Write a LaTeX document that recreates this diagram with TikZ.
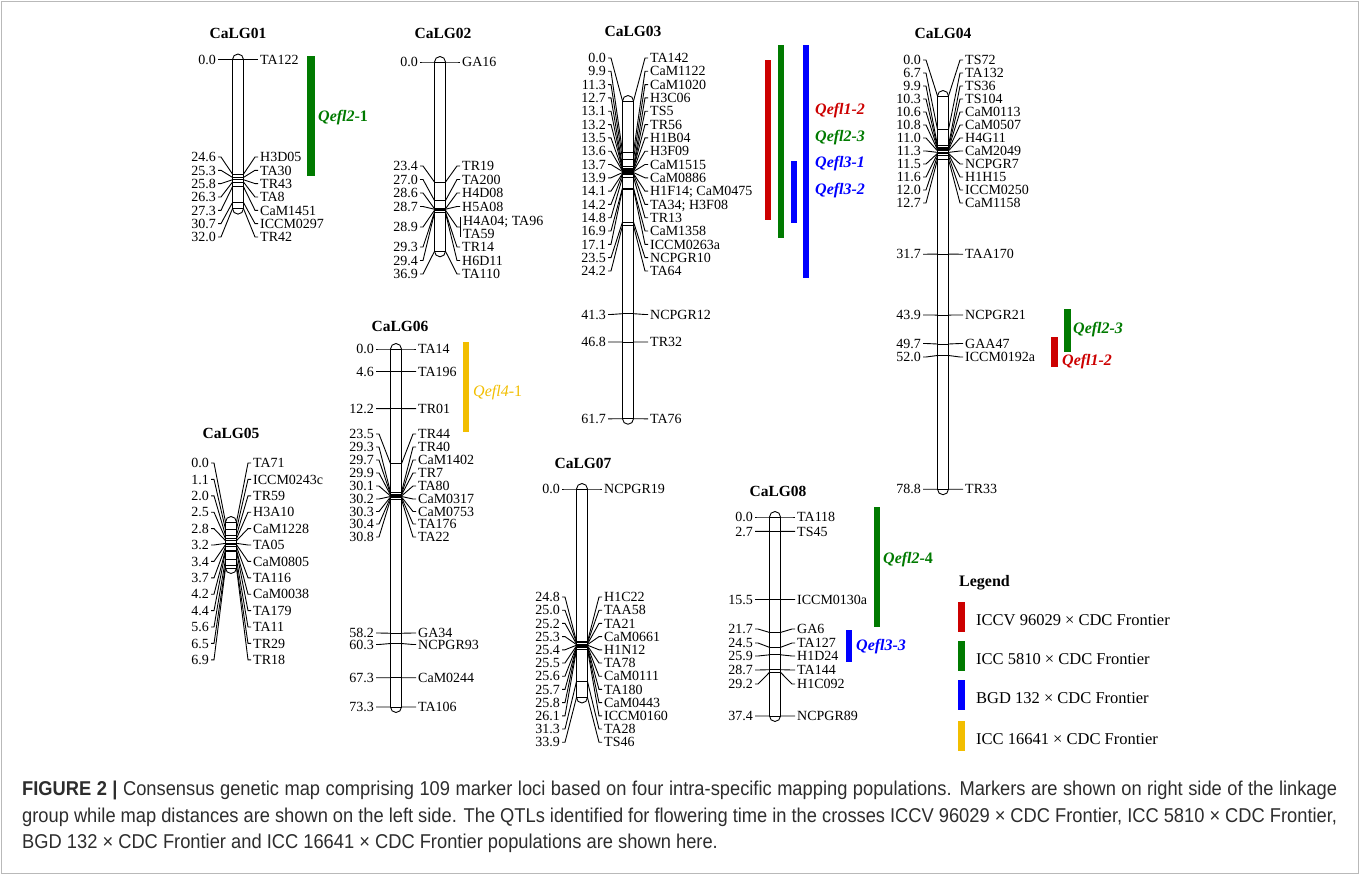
\documentclass[tikz,border=0pt]{standalone}
\usepackage{fontspec}
\setmainfont{Liberation Serif}
\newfontfamily\capfont[FakeStretch=0.915]{Liberation Sans}
\definecolor{qred}{RGB}{204,0,0}
\definecolor{qgreen}{RGB}{0,122,0}
\definecolor{qblue}{RGB}{0,0,255}
\definecolor{qyellow}{RGB}{242,190,0}
\definecolor{captext}{RGB}{45,45,45}
\newcommand{\hw}{5.5}
\newcommand{\LL}{20}
\tikzset{
  mline/.style={line width=0.9pt,black},
  lbl/.style={font=\fontsize{14}{14}\selectfont,inner sep=0pt,text height=9.4pt,text depth=0pt},
  leglbl/.style={font=\fontsize{16.5}{16.5}\selectfont,inner sep=0pt,anchor=west},
  ttl/.style={font=\fontsize{15.5}{15.5}\bfseries\selectfont,inner sep=0pt},
  qtl/.style={font=\fontsize{16}{16}\bfseries\itshape\selectfont,inner sep=0pt,anchor=west},
  caplbl/.style={font=\capfont\fontsize{20}{20}\selectfont,text=captext,inner sep=0pt,anchor=west},
}
\newcommand{\mapmarker}[7]{%
  \pgfmathsetmacro{\yp}{#2+#3*#4}%
  \draw[mline] (#1-\hw,\yp) -- (#1+\hw,\yp);
  \draw[mline] (#1-\hw,\yp) -- (#1-\LL+3,#5) -- (#1-\LL,#5);
  \draw[mline] (#1+\hw,\yp) -- (#1+\LL-3,#5) -- (#1+\LL,#5);
  \node[lbl,anchor=east] at (#1-\LL-2,#5) {#6};
  \node[lbl,anchor=west] at (#1+\LL+2,#5) {#7};
}
\newcommand{\rod}[4]{%
  \pgfmathsetmacro{\ye}{#2+#3*#4}%
  \draw[mline,rounded corners=5.5pt] (#1-\hw,#2-\hw) rectangle (#1+\hw,\ye+\hw);
}
\begin{document}
\begin{tikzpicture}[x=1pt,y=-1pt]
\useasboundingbox (0,0) rectangle (1360,875);
\draw[gray!55,line width=1pt] (1.5,1.5) rectangle (1358.5,873.5);

% ---------- CaLG01
\node[ttl] (t1) at (238,33) {CaLG01};
\def\cx{238}\def\yo{59.5}\def\sc{4.66}
\rod{\cx}{\yo}{\sc}{32.0}
\foreach \p/\yl/\m in {0.0/59.5/TA122,24.6/157/H3D05,25.3/170.3/TA30,25.8/183.6/TR43,26.3/197/TA8,27.3/210.3/CaM1451,30.7/223.6/ICCM0297,32.0/237/TR42}
  {\mapmarker{\cx}{\yo}{\sc}{\p}{\yl}{\p}{\m}}
\fill[qgreen] (307,56) rectangle (315,176);
\node[qtl,text=qgreen] (q1) at (318,118) {Qefl2\upshape-1};

% ---------- CaLG02
\node[ttl] (t2) at (443,33) {CaLG02};
\def\cx{440}\def\yo{62}\def\sc{5.13}
\rod{\cx}{\yo}{\sc}{36.9}
\foreach \p/\yl/\m in {0.0/62/GA16,23.4/166/TR19,27.0/179.5/TA200,28.6/193/H4D08,28.7/206.5/H5A08,29.3/247/TR14,29.4/260.5/H6D11,36.9/274/TA110}
  {\mapmarker{\cx}{\yo}{\sc}{\p}{\yl}{\p}{\m}}
\mapmarker{\cx}{\yo}{\sc}{28.9}{227}{28.9}{}
\draw[mline] (\cx+\LL,217) -- (\cx+\LL,237);
\node[lbl,anchor=west] (g2a) at (\cx+\LL+3,220.5) {H4A04; TA96};
\node[lbl,anchor=west] (g2b) at (\cx+\LL+3,234) {TA59};

% ---------- CaLG03
\node[ttl] (t3) at (633,31) {CaLG03};
\def\cx{628}\def\yo{101}\def\sc{5.15}
\rod{\cx}{\yo}{\sc}{61.7}
\foreach \p/\yl/\m in {0.0/58/TA142,9.9/71.3/CaM1122,11.3/84.6/CaM1020,12.7/97.9/H3C06,13.1/111.2/TS5,13.2/124.6/TR56,13.5/137.9/H1B04,13.6/151.2/H3F09,13.7/164.5/CaM1515,13.9/177.8/CaM0886,14.1/191.1/H1F14; CaM0475,14.2/204.4/TA34; H3F08,14.8/217.7/TR13,16.9/231/CaM1358,17.1/244.3/ICCM0263a,23.5/257.6/NCPGR10,24.2/271/TA64,41.3/314.5/NCPGR12,46.8/342/TR32,61.7/418.8/TA76}
  {\mapmarker{\cx}{\yo}{\sc}{\p}{\yl}{\p}{\m}}
\fill[qred] (765,60) rectangle (771,220);
\fill[qgreen] (778,45) rectangle (784,238);
\fill[qblue] (791,161) rectangle (797,223);
\fill[qblue] (803,45) rectangle (809,278);
\node[qtl,text=qred] (q31) at (815,111) {Qefl1-2};
\node[qtl,text=qgreen] (q32) at (815,138) {Qefl2-3};
\node[qtl,text=qblue] (q33) at (815,164) {Qefl3-1};
\node[qtl,text=qblue] (q34) at (815,191) {Qefl3-2};

% ---------- CaLG04
\node[ttl] (t4) at (943,33) {CaLG04};
\def\cx{943}\def\yo{96}\def\sc{4.99}
\rod{\cx}{\yo}{\sc}{78.8}
\foreach \p/\yl/\m in {0.0/60/TS72,6.7/73/TA132,9.9/86/TS36,10.3/99/TS104,10.6/112/CaM0113,10.8/125/CaM0507,11.0/138/H4G11,11.3/151/CaM2049,11.5/164/NCPGR7,11.6/177/H1H15,12.0/190/ICCM0250,12.7/203/CaM1158,31.7/254.2/TAA170,43.9/315/NCPGR21,49.7/343.5/GAA47,52.0/357/ICCM0192a,78.8/489.2/TR33}
  {\mapmarker{\cx}{\yo}{\sc}{\p}{\yl}{\p}{\m}}
\fill[qgreen] (1064,309) rectangle (1071,352);
\fill[qred] (1051,337) rectangle (1058,367);
\node[qtl,text=qgreen] (q41) at (1073,330) {Qefl2-3};
\node[qtl,text=qred] (q42) at (1062,362) {Qefl1-2};

% ---------- CaLG05
\node[ttl] (t5) at (231,433) {CaLG05};
\def\cx{231}\def\yo{522}\def\sc{6.67}
\rod{\cx}{\yo}{\sc}{6.9}
\foreach \p/\yl/\m in {0.0/463/TA71,1.1/479.4/ICCM0243c,2.0/495.8/TR59,2.5/512.2/H3A10,2.8/528.6/CaM1228,3.2/545/TA05,3.4/561.4/CaM0805,3.7/577.8/TA116,4.2/594.2/CaM0038,4.4/610.6/TA179,5.6/627/TA11,6.5/643.4/TR29,6.9/659.8/TR18}
  {\mapmarker{\cx}{\yo}{\sc}{\p}{\yl}{\p}{\m}}

% ---------- CaLG06
\node[ttl] (t6) at (400,326) {CaLG06};
\def\cx{396}\def\yo{349}\def\sc{4.884}
\rod{\cx}{\yo}{\sc}{73.3}
\foreach \p/\yl/\m in {0.0/349/TA14,4.6/371.5/TA196,12.2/408.6/TR01,23.5/434/TR44,29.3/447/TR40,29.7/460/CaM1402,29.9/473/TR7,30.1/486/TA80,30.2/499/CaM0317,30.3/511.5/CaM0753,30.4/524/TA176,30.8/537/TA22,58.2/633/GA34,60.3/644.5/NCPGR93,67.3/677.7/CaM0244,73.3/707/TA106}
  {\mapmarker{\cx}{\yo}{\sc}{\p}{\yl}{\p}{\m}}
\fill[qyellow] (463,342) rectangle (469,432);
\node[qtl,text=qyellow,font=\fontsize{16}{16}\itshape\selectfont] (q6) at (473,393) {Qefl4\upshape-1};

% ---------- CaLG07
\node[ttl] (t7) at (583,463) {CaLG07};
\def\cx{582}\def\yo{489}\def\sc{6.15}
\rod{\cx}{\yo}{\sc}{33.9}
\foreach \p/\yl/\m in {0.0/489/NCPGR19,24.8/597/H1C22,25.0/610.2/TAA58,25.2/623.4/TA21,25.3/636.6/CaM0661,25.4/649.8/H1N12,25.5/663/TA78,25.6/676.2/CaM0111,25.7/689.4/TA180,25.8/702.6/CaM0443,26.1/715.8/ICCM0160,31.3/729/TA28,33.9/742.2/TS46}
  {\mapmarker{\cx}{\yo}{\sc}{\p}{\yl}{\p}{\m}}

% ---------- CaLG08
\node[ttl] (t8) at (778,491) {CaLG08};
\def\cx{775}\def\yo{517}\def\sc{5.32}
\rod{\cx}{\yo}{\sc}{37.4}
\foreach \p/\yl/\m in {0.0/517/TA118,2.7/531.4/TS45,15.5/599.5/ICCM0130a,21.7/629/GA6,24.5/643/TA127,25.9/656/H1D24,28.7/670/TA144,29.2/684/H1C092,37.4/716/NCPGR89}
  {\mapmarker{\cx}{\yo}{\sc}{\p}{\yl}{\p}{\m}}
\fill[qgreen] (874,507) rectangle (880,627);
\fill[qblue] (846,630) rectangle (852,662);
\node[qtl,text=qgreen] (q81) at (883,560) {Qefl2\upshape-4};
\node[qtl,text=qblue] (q82) at (856,647) {Qefl3-3};

% ---------- Legend
\node[ttl,anchor=west,font=\fontsize{16}{16}\bfseries\selectfont] (lg) at (959,583) {Legend};
\foreach \c/\y/\t in {qred/620/ICCV 96029 × CDC Frontier,qgreen/659/ICC 5810 × CDC Frontier,qblue/698/BGD 132 × CDC Frontier,qyellow/739/ICC 16641 × CDC Frontier}{
  \fill[\c] (958,\y-18) rectangle (965,\y+12);
  \node[leglbl] at (976,\y) {\t};
}

% ---------- Caption
\node[caplbl] (c1) at (22,790) {\makebox[1315pt][s]{\textbf{FIGURE 2 |} Consensus genetic map comprising 109 marker loci based on four intra-specific mapping populations. Markers are shown on right side of the linkage}};
\node[caplbl] (c2) at (22,817) {\makebox[1315pt][s]{group while map distances are shown on the left side. The QTLs identified for flowering time in the crosses ICCV 96029 × CDC Frontier, ICC 5810 × CDC Frontier,}};
\node[caplbl] (c3) at (22,843) {BGD 132 × CDC Frontier and ICC 16641 × CDC Frontier populations are shown here.};
\end{tikzpicture}
\end{document}
